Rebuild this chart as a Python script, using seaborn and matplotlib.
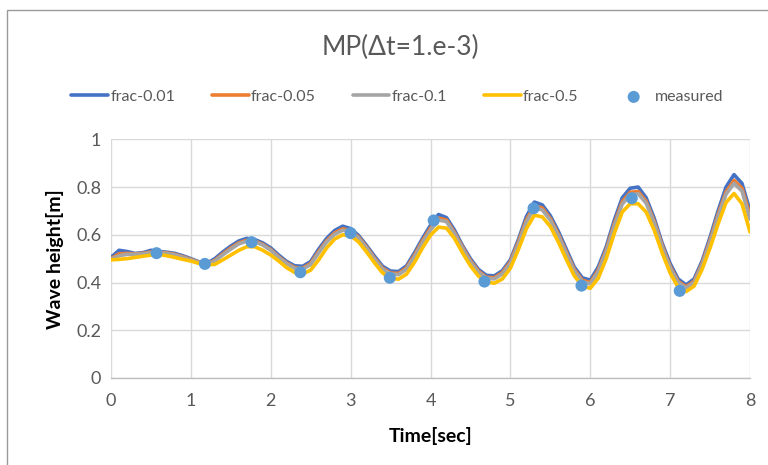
import numpy as np
import pandas as pd
import matplotlib
matplotlib.use("Agg")
import matplotlib.pyplot as plt
import seaborn as sns
from matplotlib.patches import Rectangle

time = [round(0.1 * i, 1) for i in range(81)]

frac_001 = [0.505, 0.535, 0.530, 0.522, 0.525, 0.535, 0.530, 0.527, 0.522, 0.512,
            0.500, 0.487, 0.480, 0.500, 0.528, 0.553, 0.574, 0.585, 0.580, 0.566,
            0.545, 0.515, 0.488, 0.470, 0.468, 0.488, 0.540, 0.585, 0.618, 0.636,
            0.626, 0.597, 0.555, 0.510, 0.468, 0.448, 0.446, 0.470, 0.525, 0.585,
            0.640, 0.685, 0.672, 0.620, 0.555, 0.500, 0.455, 0.430, 0.428, 0.450,
            0.495, 0.580, 0.676, 0.737, 0.725, 0.680, 0.615, 0.540, 0.465, 0.420,
            0.410, 0.465, 0.550, 0.660, 0.755, 0.795, 0.800, 0.755, 0.670, 0.565,
            0.480, 0.415, 0.390, 0.415, 0.490, 0.590, 0.700, 0.800, 0.852, 0.815,
            0.700]

frac_005 = [0.500, 0.520, 0.522, 0.520, 0.522, 0.528, 0.527, 0.524, 0.518, 0.508,
            0.497, 0.485, 0.478, 0.493, 0.520, 0.545, 0.566, 0.577, 0.574, 0.560,
            0.538, 0.508, 0.482, 0.463, 0.460, 0.480, 0.530, 0.575, 0.608, 0.625,
            0.618, 0.590, 0.548, 0.502, 0.460, 0.440, 0.438, 0.462, 0.515, 0.575,
            0.628, 0.670, 0.662, 0.610, 0.548, 0.492, 0.448, 0.422, 0.420, 0.442,
            0.487, 0.570, 0.662, 0.722, 0.712, 0.668, 0.603, 0.528, 0.455, 0.410,
            0.400, 0.452, 0.538, 0.645, 0.738, 0.778, 0.781, 0.740, 0.657, 0.555,
            0.468, 0.405, 0.382, 0.405, 0.480, 0.578, 0.685, 0.780, 0.828, 0.795,
            0.682]

frac_01 = [0.498, 0.512, 0.518, 0.518, 0.520, 0.525, 0.525, 0.522, 0.516, 0.506,
           0.495, 0.484, 0.477, 0.490, 0.516, 0.540, 0.562, 0.573, 0.571, 0.557,
           0.535, 0.505, 0.479, 0.460, 0.456, 0.475, 0.524, 0.570, 0.602, 0.619,
           0.613, 0.586, 0.544, 0.498, 0.456, 0.436, 0.433, 0.456, 0.508, 0.568,
           0.620, 0.662, 0.655, 0.605, 0.543, 0.487, 0.443, 0.418, 0.415, 0.436,
           0.480, 0.562, 0.653, 0.713, 0.704, 0.661, 0.597, 0.522, 0.449, 0.404,
           0.394, 0.445, 0.530, 0.636, 0.728, 0.768, 0.772, 0.732, 0.650, 0.549,
           0.462, 0.400, 0.377, 0.400, 0.474, 0.570, 0.676, 0.770, 0.815, 0.783,
           0.665]

frac_05 = [0.495, 0.497, 0.500, 0.505, 0.510, 0.515, 0.518, 0.512, 0.505, 0.497,
           0.490, 0.480, 0.474, 0.476, 0.495, 0.515, 0.535, 0.550, 0.550, 0.535,
           0.515, 0.490, 0.462, 0.442, 0.436, 0.452, 0.495, 0.545, 0.582, 0.600,
           0.596, 0.570, 0.528, 0.482, 0.440, 0.418, 0.414, 0.435, 0.485, 0.545,
           0.598, 0.632, 0.628, 0.585, 0.525, 0.470, 0.427, 0.402, 0.397, 0.415,
           0.460, 0.538, 0.625, 0.682, 0.675, 0.635, 0.570, 0.497, 0.428, 0.385,
           0.376, 0.418, 0.500, 0.605, 0.695, 0.730, 0.730, 0.695, 0.620, 0.525,
           0.440, 0.380, 0.362, 0.385, 0.455, 0.545, 0.645, 0.735, 0.773, 0.730,
           0.612]

measured_t = [0.57, 1.175, 1.76, 2.37, 3.0, 3.49, 4.04, 4.675, 5.29, 5.89, 6.52, 7.12]
measured_h = [0.523, 0.478, 0.569, 0.443, 0.607, 0.420, 0.660, 0.404, 0.711, 0.387, 0.753, 0.365]

series_names = ["frac-0.01", "frac-0.05", "frac-0.1", "frac-0.5"]
series_values = [frac_001, frac_005, frac_01, frac_05]
colors = ["#4472C4", "#ED7D31", "#A5A5A5", "#FFC000"]

sns.set_style("white")
plt.rcParams["font.family"] = ["Lato", "DejaVu Sans"]

fig = plt.figure(figsize=(7.68, 4.65), dpi=100)
ax = fig.add_axes([111 / 768, 1 - 378 / 465, (750 - 111) / 768, (378 - 139.3) / 465])

for name, vals, c in zip(series_names, series_values, colors):
    sns.lineplot(x=time, y=vals, color=c, linewidth=2.6, label=name, ax=ax,
                 solid_joinstyle="round", solid_capstyle="round")

sns.scatterplot(x=measured_t, y=measured_h, color="#5B9BD5", s=75, edgecolor="none",
                label="measured", ax=ax, zorder=5)

ax.set_xlim(0, 8)
ax.set_ylim(0, 1)
ax.set_xticks(range(0, 9))
ax.set_yticks([0, 0.2, 0.4, 0.6, 0.8, 1.0])
ax.set_yticklabels(["0", "0.2", "0.4", "0.6", "0.8", "1"])
ax.grid(True, color="#D9D9D9", linewidth=1)
ax.set_axisbelow(True)
for s in ["top", "right", "left"]:
    ax.spines[s].set_visible(False)
ax.spines["bottom"].set_color("#BFBFBF")
ax.spines["bottom"].set_linewidth(1)
ax.tick_params(axis="y", length=0, labelsize=13, labelcolor="#595959", pad=7)
ax.tick_params(axis="x", length=0, labelsize=13, labelcolor="#595959", pad=11)

ax.set_xlabel("Time[sec]", fontsize=14, fontweight="bold", color="black", labelpad=13)
ax.set_ylabel("Wave height[m]", fontsize=14, fontweight="bold", color="black", labelpad=9)

fig.text(400 / 768, 1 - 47 / 465, "MP(Δt=1.e-3)", ha="center", va="center",
         fontsize=19, color="#595959")

handles, labels = ax.get_legend_handles_labels()
leg = ax.legend(handles, labels, loc="center", bbox_to_anchor=(397 / 768, 1 - 97 / 465),
                bbox_transform=fig.transFigure, ncol=5, frameon=False, fontsize=11.5,
                handlelength=2.3, handletextpad=0.15, columnspacing=2.3)
for t in leg.get_texts():
    t.set_color("#595959")

fig.patches.append(Rectangle((7 / 768, -0.1), 1.2, 1 - 10 / 465 + 0.1,
                             transform=fig.transFigure, fill=False,
                             edgecolor="#9A9A9A", linewidth=1))

fig.savefig("out.png", dpi=100)
